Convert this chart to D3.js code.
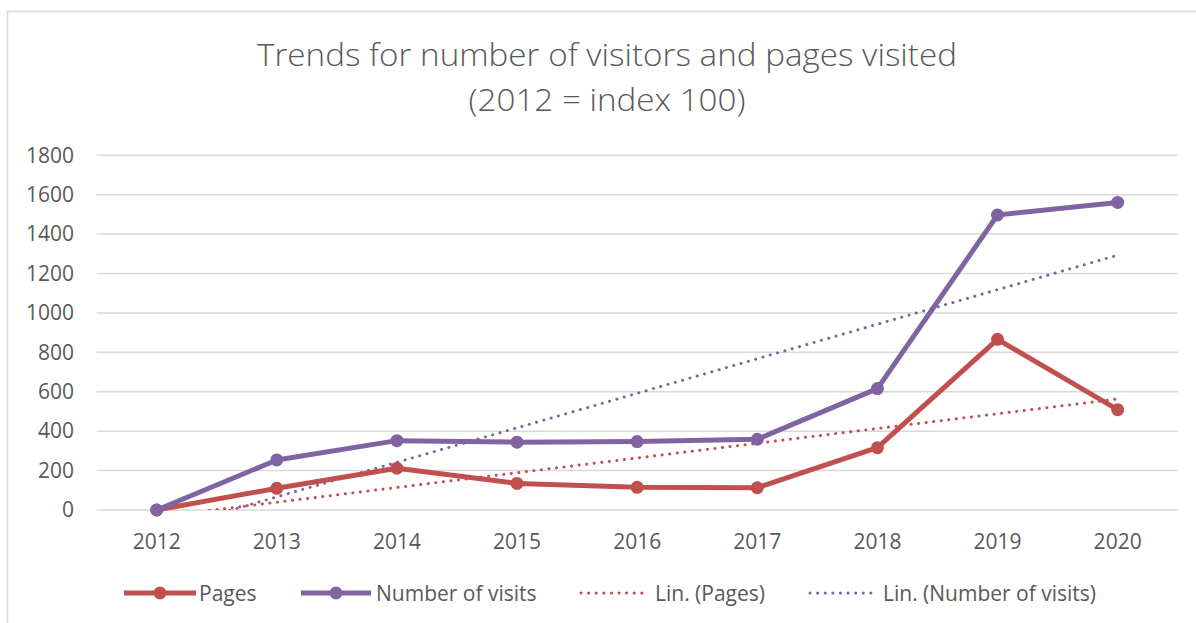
<!DOCTYPE html>
<html>
<head>
<meta charset="utf-8">
<script src="https://cdn.jsdelivr.net/npm/d3@7"></script>
<style>
  body { margin: 0; background: #fff; }
  text { font-family: "Open Sans", "Noto Sans", sans-serif; fill: #595959; }
</style>
</head>
<body>
<svg id="svg1" width="1196" height="623"></svg>
<script>
// chart data (2012 = index 100)
var years = ["2012", "2013", "2014", "2015", "2016", "2017", "2018", "2019", "2020"];
var pages = [0, 110, 212, 135, 115, 113, 316, 866, 509];
var visits = [0, 254, 352, 344, 347, 359, 616, 1497, 1561];
var yTicks = [0, 200, 400, 600, 800, 1000, 1200, 1400, 1600, 1800];
var titleLines = ["Trends for number of visitors and pages visited", "(2012 = index 100)"];
var titleWidths = [700, 277];

var red = "#C0504D";
var purple = "#8064A2";

var svg = d3.select("#svg1");

// outer chart border
svg.append("rect")
    .attr("x", 7.5).attr("y", 11.5)
    .attr("width", 1210).attr("height", 640)
    .attr("fill", "none")
    .attr("stroke", "#d9d9d9")
    .attr("stroke-width", 1.5);

// title
svg.selectAll(".title").data(titleLines).enter().append("text")
    .attr("class", "title")
    .attr("x", 607)
    .attr("y", function(d, i) { return 66 + i * 45; })
    .attr("text-anchor", "middle")
    .attr("font-size", 31)
    .attr("font-weight", 300)
    .attr("textLength", function(d, i) { return titleWidths[i]; })
    .attr("lengthAdjust", "spacingAndGlyphs")
    .text(function(d) { return d; });

var x = d3.scaleBand().domain(years).range([96.6, 1177.7]);
var y = d3.scaleLinear().domain([0, 1800]).range([510, 155.3]);
var cx = function(i) { return x(years[i]) + x.bandwidth() / 2; };

// gridlines
svg.append("g").selectAll("line").data(yTicks).enter().append("line")
    .attr("x1", 96.6).attr("x2", 1177.7)
    .attr("y1", function(d) { return y(d); })
    .attr("y2", function(d) { return y(d); })
    .attr("stroke", "#d9d9d9")
    .attr("stroke-width", 1.5);

// y tick labels
var yAxis = svg.append("g")
    .attr("transform", "translate(74,0)")
    .call(d3.axisLeft(y).tickValues(yTicks).tickFormat(d3.format("d")).tickSize(0).tickPadding(0));
yAxis.select(".domain").remove();
yAxis.selectAll("text")
    .attr("font-size", 21)
    .attr("fill", "#595959")
    .style("font-family", "'Open Sans', sans-serif");

// x tick labels
var xAxis = svg.append("g")
    .attr("transform", "translate(0,534)")
    .call(d3.axisBottom(x).tickSize(0).tickPadding(0));
xAxis.select(".domain").remove();
xAxis.selectAll("text")
    .attr("font-size", 21)
    .attr("fill", "#595959")
    .style("font-family", "'Open Sans', sans-serif");

// linear trend lines (least squares over index, like Excel)
function trend(vals) {
    var n = vals.length;
    var mx = d3.mean(vals, function(d, i) { return i; });
    var my = d3.mean(vals);
    var sxy = 0, sxx = 0;
    vals.forEach(function(v, i) { sxy += (i - mx) * (v - my); sxx += (i - mx) * (i - mx); });
    var b = sxy / sxx;
    var a = my - b * mx;
    return { a: a, b: b, n: n };
}

svg.append("clipPath").attr("id", "plotclip")
    .append("rect").attr("x", 96.6).attr("y", 155.3).attr("width", 1081).attr("height", 354.7);

function drawTrend(vals, color) {
    var t = trend(vals);
    var xs = d3.scaleLinear().domain([0, t.n - 1]).range([cx(0), cx(t.n - 1)]);
    svg.append("line")
        .attr("clip-path", "url(#plotclip)")
        .attr("x1", xs(0)).attr("y1", y(t.a))
        .attr("x2", xs(t.n - 1)).attr("y2", y(t.a + t.b * (t.n - 1)))
        .attr("stroke", color)
        .attr("stroke-width", 3)
        .attr("stroke-linecap", "round")
        .attr("stroke-dasharray", "0.1 7.5");
}

function drawSeries(vals, color) {
    var line = d3.line()
        .x(function(d, i) { return cx(i); })
        .y(function(d) { return y(d); });
    svg.append("path")
        .datum(vals)
        .attr("d", line)
        .attr("fill", "none")
        .attr("stroke", color)
        .attr("stroke-width", 5)
        .attr("stroke-linejoin", "round");
    svg.append("g").selectAll("circle").data(vals).enter().append("circle")
        .attr("cx", function(d, i) { return cx(i); })
        .attr("cy", function(d) { return y(d); })
        .attr("r", 6.5)
        .attr("fill", color);
}

drawTrend(pages, red);
drawTrend(visits, purple);
drawSeries(pages, red);
drawSeries(visits, purple);

// legend
var legend = [
    { label: "Pages", color: red, solid: true, x0: 124, x1: 196, tx: 199 },
    { label: "Number of visits", color: purple, solid: true, x0: 301, x1: 371, tx: 376 },
    { label: "Lin. (Pages)", color: red, solid: false, x0: 581, x1: 647, tx: 655 },
    { label: "Lin. (Number of visits)", color: purple, solid: false, x0: 810, x1: 877, tx: 883 }
];
var ly = 593;
legend.forEach(function(d) {
    var g = svg.append("g");
    if (d.solid) {
        g.append("line")
            .attr("x1", d.x0).attr("x2", d.x1).attr("y1", ly).attr("y2", ly)
            .attr("stroke", d.color).attr("stroke-width", 5);
        g.append("circle")
            .attr("cx", (d.x0 + d.x1) / 2).attr("cy", ly).attr("r", 6.5)
            .attr("fill", d.color);
    } else {
        g.append("line")
            .attr("x1", d.x0).attr("x2", d.x1).attr("y1", ly).attr("y2", ly)
            .attr("stroke", d.color).attr("stroke-width", 3)
            .attr("stroke-linecap", "round")
            .attr("stroke-dasharray", "0.1 7.5");
    }
    g.append("text")
        .attr("x", d.tx).attr("y", ly + 8)
        .attr("font-size", 21)
        .text(d.label);
});
</script>
</body>
</html>
